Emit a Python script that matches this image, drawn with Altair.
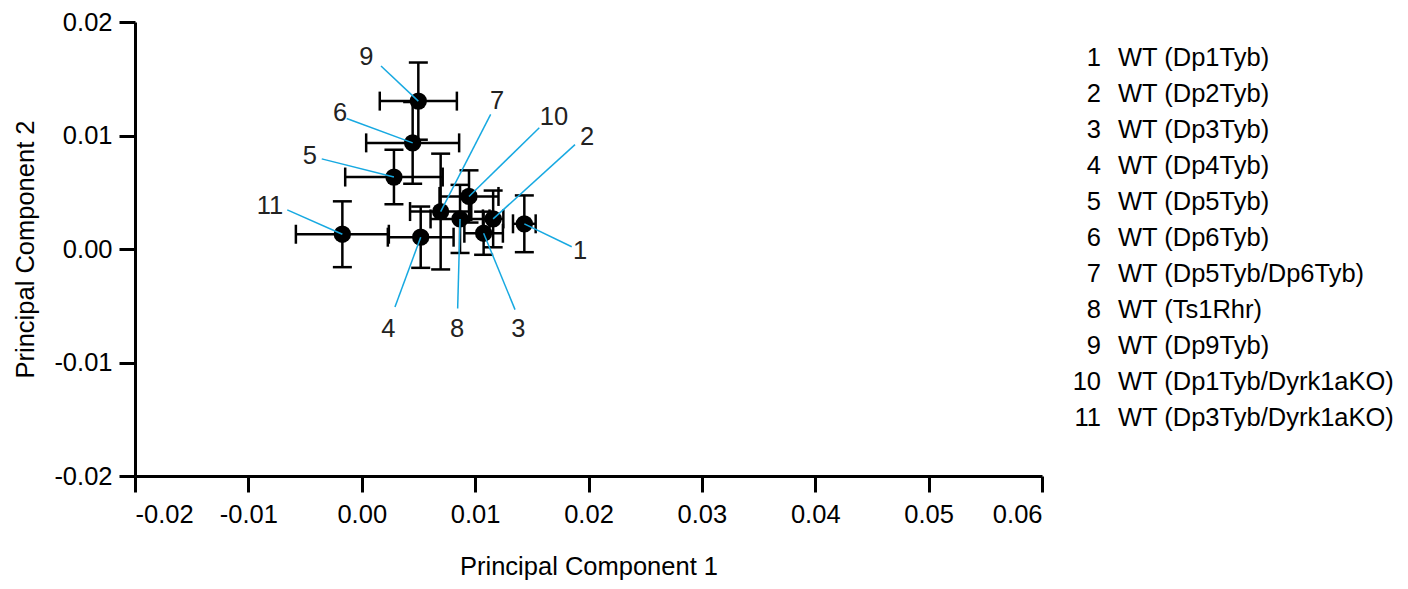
import altair as alt
import pandas as pd

# ---- data ----
ids = ["1", "2", "3", "4", "5", "6", "7", "8", "9", "10", "11"]
groups = ["WT (Dp1Tyb)", "WT (Dp2Tyb)", "WT (Dp3Tyb)", "WT (Dp4Tyb)", "WT (Dp5Tyb)",
          "WT (Dp6Tyb)", "WT (Dp5Tyb/Dp6Tyb)", "WT (Ts1Rhr)", "WT (Dp9Tyb)",
          "WT (Dp1Tyb/Dyrk1aKO)", "WT (Dp3Tyb/Dyrk1aKO)"]
pc1 = [0.01434, 0.01159, 0.01075, 0.00520, 0.00284, 0.00449, 0.00696, 0.00867, 0.00499, 0.00946, -0.00171]
pc2 = [0.00222, 0.00265, 0.00139, 0.00104, 0.00634, 0.00935, 0.00330, 0.00265, 0.01303, 0.00463, 0.00130]
pc1_err = [0.0010, 0.0009, 0.0017, 0.0029, 0.0043, 0.0041, 0.0027, 0.0026, 0.0034, 0.0026, 0.0041]
pc2_err = [0.0025, 0.0025, 0.0019, 0.0027, 0.0024, 0.0036, 0.0051, 0.0030, 0.0034, 0.0023, 0.0029]

# annotation label positions (data units) and leader-line start points
label_x = [0.01925, 0.01987, 0.01381, 0.00234, -0.00457, -0.00192, 0.01193, 0.00841, 0.00041, 0.01696, -0.00809]
label_y = [-0.00018, 0.00991, -0.00702, -0.00702, 0.00817, 0.01201, 0.01301, -0.00702, 0.01688, 0.01159, 0.00381]
leader_x = [0.01852, 0.01881, 0.01352, 0.00293, -0.00353, -0.00133, 0.01137, 0.00846, 0.00170, 0.01566, -0.00657]
leader_y = [0.00020, 0.00920, -0.00534, -0.00511, 0.00794, 0.01150, 0.01186, -0.00525, 0.01613, 0.01068, 0.00345]

x_ticks = [-0.02, -0.01, 0.0, 0.01, 0.02, 0.03, 0.04, 0.05, 0.06]
y_ticks = [-0.02, -0.01, 0.0, 0.01, 0.02]

df = pd.DataFrame({
    "id": ids, "pc1": pc1, "pc2": pc2,
    "x_lo": [a - e for a, e in zip(pc1, pc1_err)],
    "x_hi": [a + e for a, e in zip(pc1, pc1_err)],
    "y_lo": [a - e for a, e in zip(pc2, pc2_err)],
    "y_hi": [a + e for a, e in zip(pc2, pc2_err)],
    "lab_x": label_x, "lab_y": label_y,
    "ld_x": leader_x, "ld_y": leader_y,
})
legend_df = pd.DataFrame({"row": list(range(1, len(ids) + 1)), "id": ids, "group": groups})

FONT = "Liberation Sans"
FS = 25.5
LABEL_EXPR = "replace(format(datum.value, '.2f'), '\u2212', '-')"
xscale = alt.Scale(domain=[-0.02, 0.06], nice=False, zero=False)
yscale = alt.Scale(domain=[-0.02, 0.02], nice=False, zero=False)
xaxis = alt.Axis(values=x_ticks, labelExpr=LABEL_EXPR, labelPadding=10, titlePadding=27)
yaxis = alt.Axis(values=y_ticks, labelExpr=LABEL_EXPR, labelPadding=7, titlePadding=15)


def X(f):
    return alt.X(f, type="quantitative", scale=xscale, axis=xaxis, title="Principal Component 1")


def Y(f):
    return alt.Y(f, type="quantitative", scale=yscale, axis=yaxis, title="Principal Component 2")


base = alt.Chart(df)
LW = 2.5
vbars = base.mark_rule(color="black", strokeWidth=LW, opacity=1).encode(x=X("pc1"), y=Y("y_lo"), y2="y_hi")
hbars = base.mark_rule(color="black", strokeWidth=LW, opacity=1).encode(y=Y("pc2"), x=X("x_lo"), x2="x_hi")
cap_lo = base.mark_tick(color="black", orient="horizontal", size=19, thickness=LW, opacity=1).encode(
    x=X("pc1"), y=Y("y_lo"))
cap_hi = base.mark_tick(color="black", orient="horizontal", size=19, thickness=LW, opacity=1).encode(
    x=X("pc1"), y=Y("y_hi"))
cap_l = base.mark_tick(color="black", orient="vertical", size=19, thickness=LW, opacity=1).encode(
    x=X("x_lo"), y=Y("pc2"))
cap_r = base.mark_tick(color="black", orient="vertical", size=19, thickness=LW, opacity=1).encode(
    x=X("x_hi"), y=Y("pc2"))
points = base.mark_circle(color="black", opacity=1, size=300).encode(x=X("pc1"), y=Y("pc2"))
leaders = base.mark_rule(color="#17A9E1", strokeWidth=1.5).encode(
    x=X("ld_x"), y=Y("ld_y"), x2="pc1", y2="pc2")
labels = base.mark_text(font=FONT, fontSize=FS, color="#222222", align="center", baseline="middle").encode(
    x=X("lab_x"), y=Y("lab_y"), text="id")

main = alt.layer(vbars, hbars, cap_lo, cap_hi, cap_l, cap_r, points, leaders, labels)

leg_y = alt.Y("row:Q", scale=alt.Scale(domain=[1, len(ids)], range=[36, 396]), axis=None)
leg_num = alt.Chart(legend_df).mark_text(font=FONT, fontSize=FS, color="black", align="right",
                                         baseline="middle").encode(x=alt.value(966), y=leg_y, text="id")
leg_txt = alt.Chart(legend_df).mark_text(font=FONT, fontSize=FS, color="black", align="left",
                                         baseline="middle").encode(x=alt.value(983), y=leg_y, text="group")
legend = alt.layer(leg_num, leg_txt)

chart = alt.layer(main, legend).resolve_scale(y="independent").properties(
    width=907, height=454,
    padding={"left": 127, "top": 14, "right": 358, "bottom": 105},
    autosize=alt.AutoSizeParams(type="none"),
).configure_view(stroke=None).configure_axis(
    grid=False, domainColor="black", domainWidth=3, tickColor="black", tickWidth=3, tickSize=16,
    labelFont=FONT, labelFontSize=FS, labelColor="black",
    titleFont=FONT, titleFontSize=FS, titleFontWeight="normal", titleColor="black",
)

chart.save("out.html", embed_options={"renderer": "svg", "actions": False})
